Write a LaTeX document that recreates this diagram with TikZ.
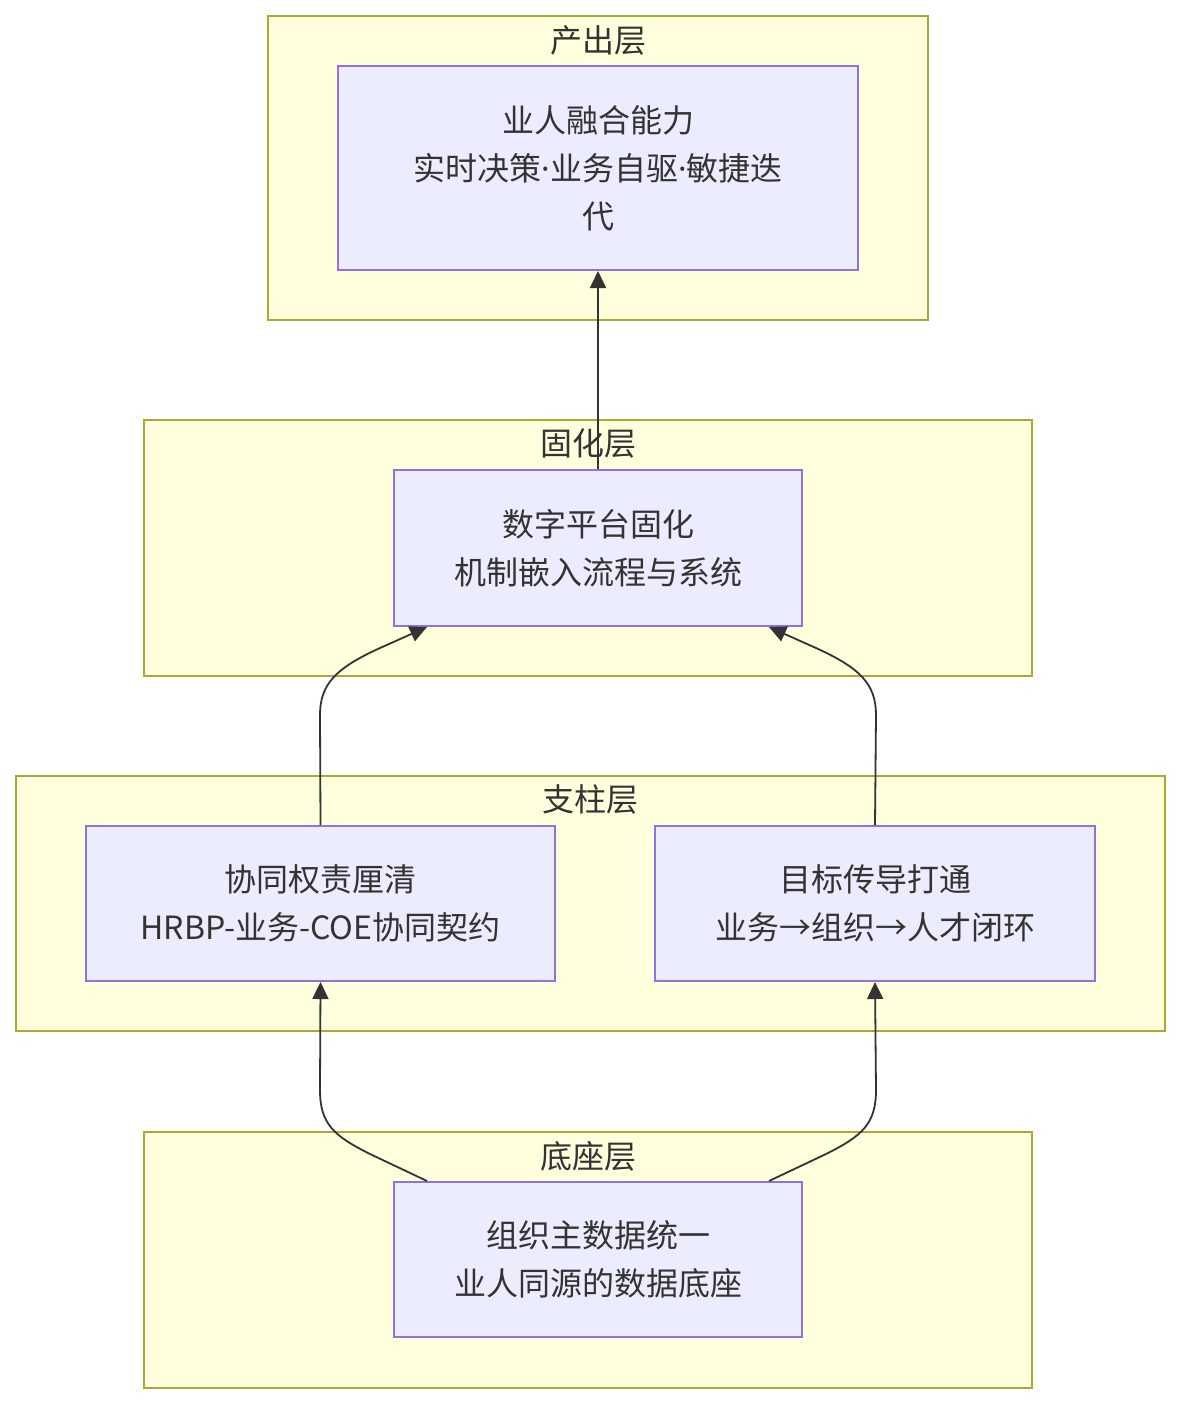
\documentclass[tikz,border=0pt]{standalone}
\usepackage{fontspec}
\newfontfamily\cjk{Noto Sans CJK SC}
\newfontfamily\latinsans{Noto Sans}
\usetikzlibrary{arrows.meta}
\definecolor{layerfill}{HTML}{FFFFDE}
\definecolor{layerline}{HTML}{AAAA33}
\definecolor{blockfill}{HTML}{ECECFF}
\definecolor{blockline}{HTML}{9370DB}
\definecolor{inkgray}{HTML}{333333}
\newcommand{\middot}{{\latinsans ·}}
\tikzset{
  layer/.style={rectangle, draw=layerline, fill=layerfill, line width=1pt,
                inner sep=0pt},
  layertitle/.style={text=inkgray, font={\cjk\fontsize{16}{20}\selectfont},
                     inner sep=0pt},
  block/.style={rectangle, draw=blockline, fill=blockfill, line width=1pt,
                align=center, text=inkgray, inner sep=0pt,
                font={\cjk\fontsize{16}{24}\selectfont}},
  edge/.style={-{Triangle[length=8.5pt,width=8pt]}, line width=0.9pt, draw=inkgray},
}

\begin{document}
\begin{tikzpicture}[x=0.5pt, y=-0.5pt]
    \useasboundingbox (0,0) rectangle (1180,1404);

    % Layers (background frames)
    \node[layer, minimum width=330pt, minimum height=152pt]   (outL)    at (598,168)    {};
    \node[layer, minimum width=444pt, minimum height=128pt]   (platL)   at (588,548)    {};
    \node[layer, minimum width=574.5pt, minimum height=127.5pt] (pillarL) at (590.5,903.5) {};
    \node[layer, minimum width=444pt, minimum height=128pt]   (baseL)   at (588,1260)   {};

    % Layer titles
    \node[layertitle] (outT)    at (598,40)   {产出层};
    \node[layertitle] (platT)   at (588,443)  {固化层};
    \node[layertitle] (pillarT) at (590,799)  {支柱层};
    \node[layertitle] (baseT)   at (588,1156) {底座层};

    % Blocks
    \node[block, minimum width=260pt, minimum height=102pt]    (out)    at (598,168)     {业人融合能力\\实时决策\middot 业务自驱\middot 敏捷迭\\代};
    \node[block, minimum width=204pt, minimum height=78pt]     (plat)   at (598,548)     {数字平台固化\\机制嵌入流程与系统};
    \node[block, minimum width=234.5pt, minimum height=77.5pt] (collab) at (320.5,903.5) {协同权责厘清\\HRBP-业务-COE协同契约};
    \node[block, minimum width=220pt, minimum height=77.5pt]   (goal)   at (875,903.5)   {目标传导打通\\业务→组织→人才闭环};
    \node[block, minimum width=204pt, minimum height=77.5pt]   (base)   at (598,1259.5)  {组织主数据统一\\业人同源的数据底座};

    % Edges
    \draw[edge] (plat.north) -- (out.south);

    \draw[edge] (collab.north) -- (320,715)
      .. controls (320,684) and (336,668) .. (380,648)
      -- ([xshift=17pt]plat.south west);
    \draw[edge] (goal.north) -- (876,715)
      .. controls (876,684) and (860,668) .. (816,648)
      -- ([xshift=-17pt]plat.south east);

    \draw[edge] ([xshift=17pt]base.north west) -- (370,1154)
      .. controls (334,1136) and (320,1124) .. (320,1090)
      -- (collab.south);
    \draw[edge] ([xshift=-17pt]base.north east) -- (826,1154)
      .. controls (862,1136) and (876,1124) .. (876,1090)
      -- (goal.south);

\end{tikzpicture}
\end{document}
